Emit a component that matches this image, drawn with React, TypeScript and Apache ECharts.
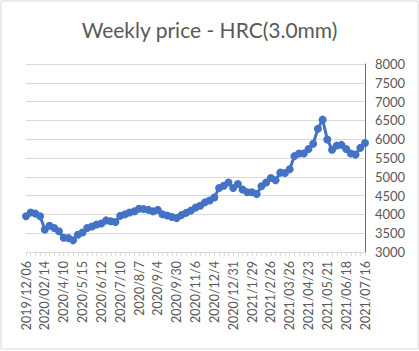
import React, { useEffect, useRef } from "react";
import * as echarts from "echarts";

const TITLE = "Weekly price - HRC(3.0mm)";

const categories: string[] = [
  "2019/12/06", "2019/12/13", "2019/12/20", "2020/01/10",
  "2020/02/14", "2020/02/28", "2020/03/13", "2020/03/27",
  "2020/4/10", "2020/4/17", "2020/4/24", "2020/5/8",
  "2020/5/15", "2020/5/22", "2020/5/29", "2020/6/5",
  "2020/6/12", "2020/6/19", "2020/6/24", "2020/7/3",
  "2020/7/10", "2020/7/17", "2020/7/24", "2020/7/31",
  "2020/8/7", "2020/8/14", "2020/8/21", "2020/8/28",
  "2020/9/4", "2020/9/11", "2020/9/18", "2020/9/25",
  "2020/9/30", "2020/10/16", "2020/10/23", "2020/10/30",
  "2020/11/6", "2020/11/13", "2020/11/20", "2020/11/27",
  "2020/12/4", "2020/12/11", "2020/12/18", "2020/12/25",
  "2020/12/31", "2021/1/8", "2021/1/15", "2021/1/22",
  "2021/1/29", "2021/2/5", "2021/2/10", "2021/2/19",
  "2021/2/26", "2021/03/05", "2021/03/12", "2021/03/19",
  "2021/03/26", "2021/04/02", "2021/04/09", "2021/04/16",
  "2021/04/23", "2021/04/30", "2021/05/07", "2021/05/14",
  "2021/05/21", "2021/05/28", "2021/06/04", "2021/06/11",
  "2021/06/18", "2021/06/25", "2021/07/02", "2021/07/09",
  "2021/07/16",
];

const prices: number[] = [
  3950, 4050, 4020, 3950,
  3600, 3700, 3640, 3550,
  3380, 3370, 3310, 3460,
  3520, 3640, 3680, 3730,
  3760, 3840, 3820, 3800,
  3960, 4000, 4050, 4080,
  4150, 4140, 4120, 4080,
  4120, 4000, 3970, 3930,
  3900, 3980, 4040, 4100,
  4180, 4230, 4320, 4370,
  4450, 4700, 4760, 4850,
  4700, 4810, 4660, 4590,
  4590, 4540, 4750, 4850,
  4970, 4910, 5110, 5100,
  5200, 5550, 5620, 5620,
  5740, 5880, 6280, 6520,
  5990, 5720, 5830, 5850,
  5740, 5620, 5590, 5770,
  5900,
];

const Y_MIN = 3000;
const Y_MAX = 8000;
const Y_STEP = 500;

export default function App() {
  const ref = useRef<HTMLDivElement>(null);
  useEffect(() => {
    if (!ref.current) return;
    const chart = echarts.init(ref.current, null, { renderer: "svg" });
    const font = "Lato, 'Open Sans', sans-serif";
    chart.setOption({
      animation: false,
      backgroundColor: "#ffffff",
      title: {
        text: TITLE,
        left: "center",
        top: 14,
        textStyle: {
          color: "#595959",
          fontSize: 21,
          fontWeight: "normal",
          fontFamily: font,
        },
      },
      graphic: [
        {
          type: "rect",
          shape: { x: 1, y: 1, width: 417, height: 348 },
          style: { fill: "none", stroke: "#D9D9D9", lineWidth: 1 },
          silent: true,
        },
      ],
      grid: { left: 26, right: 54, top: 64, bottom: 99 },
      xAxis: {
        type: "category",
        data: categories,
        boundaryGap: false,
        axisLine: { lineStyle: { color: "#D9D9D9", width: 1 } },
        axisTick: {
          show: true,
          interval: 0,
          length: 4,
          lineStyle: { color: "#D9D9D9" },
        },
        axisLabel: {
          interval: 3,
          rotate: 90,
          color: "#595959",
          fontSize: 12.5,
          fontFamily: font,
          margin: 9,
        },
        splitLine: { show: false },
      },
      yAxis: {
        type: "value",
        position: "right",
        min: Y_MIN,
        max: Y_MAX,
        interval: Y_STEP,
        axisLine: { show: true, lineStyle: { color: "#4472C4", width: 1 } },
        axisTick: { show: false },
        axisLabel: {
          color: "#595959",
          fontSize: 13,
          fontFamily: font,
          margin: 10,
          formatter: (v: number) => String(v),
        },
        splitLine: { lineStyle: { color: "#D9D9D9", width: 1 } },
      },
      series: [
        {
          type: "line",
          data: prices,
          symbol: "circle",
          symbolSize: 8,
          showAllSymbol: true,
          itemStyle: { color: "#4472C4" },
          lineStyle: { color: "#4472C4", width: 3 },
        },
      ],
    });
    return () => chart.dispose();
  }, []);
  return (
    <div
      ref={ref}
      style={{ position: "fixed", left: 0, top: 0, width: 419, height: 351 }}
    />
  );
}
